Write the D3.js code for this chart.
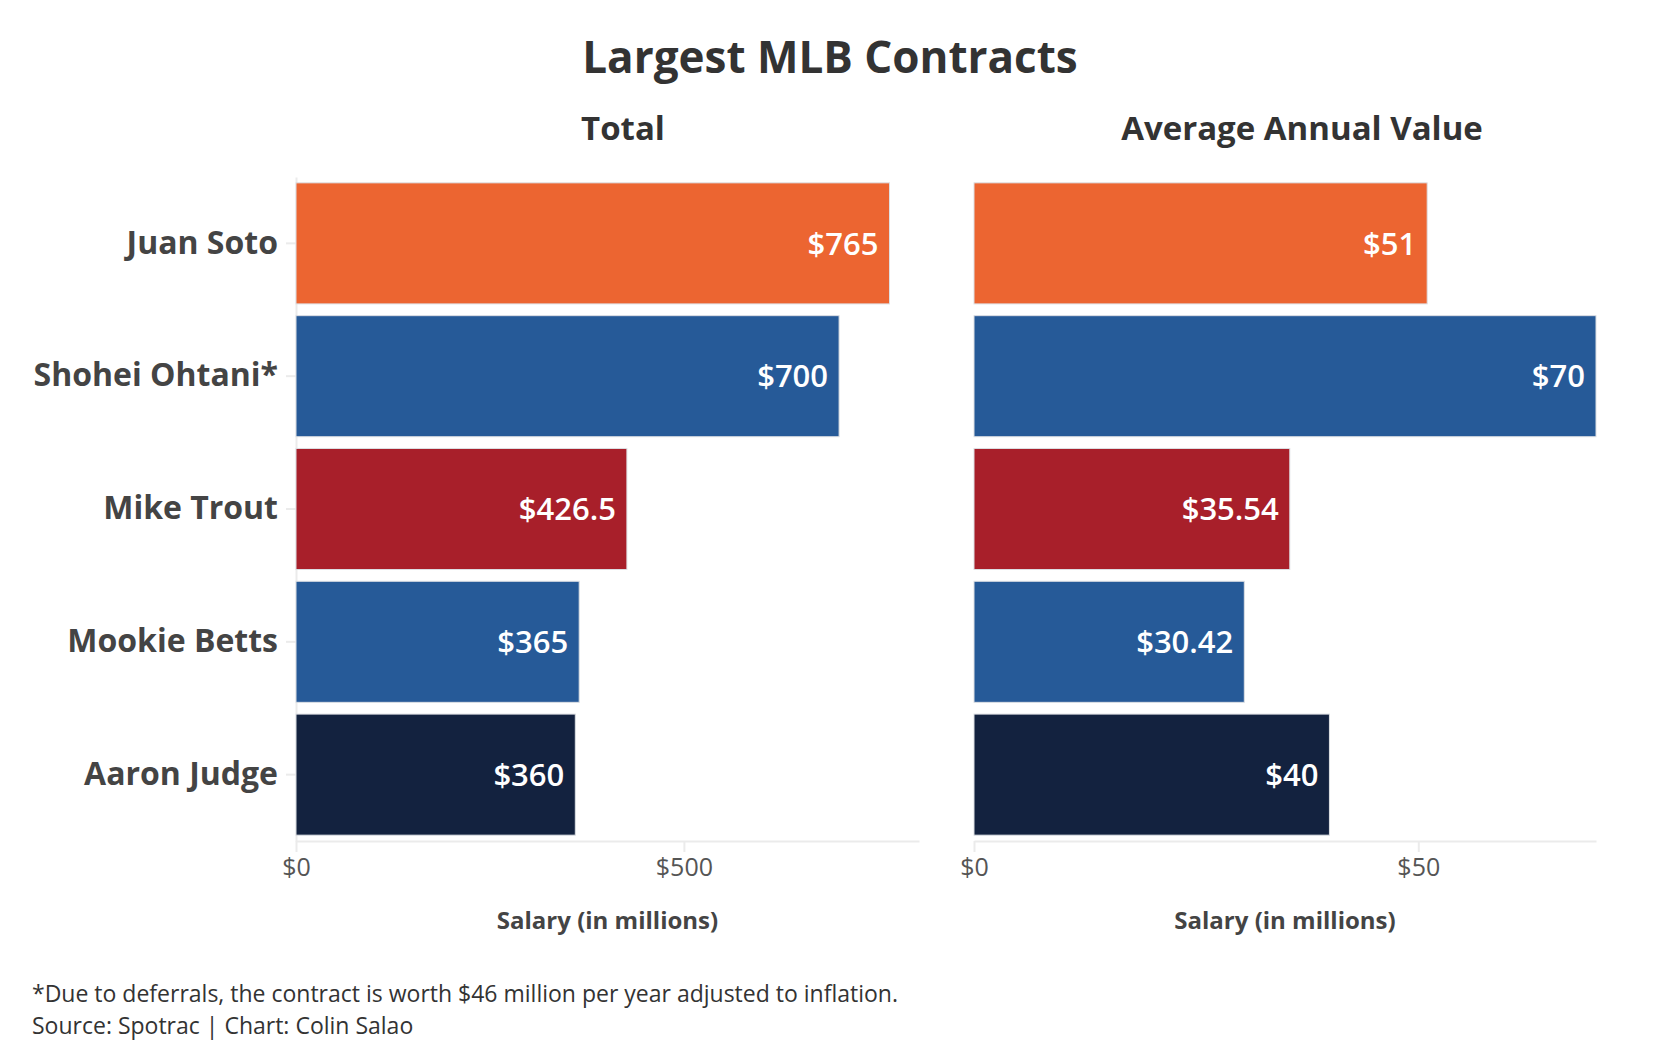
<!DOCTYPE html>
<html>
<head>
<meta charset="utf-8">
<script src="https://cdn.jsdelivr.net/npm/d3@7"></script>
<style>
  body { margin: 0; background: #fff; }
  text { font-family: "Open Sans", Lato, sans-serif; }
</style>
</head>
<body>
<div id="chart"></div>
<script>
// Chart data
const players = ["Juan Soto", "Shohei Ohtani*", "Mike Trout", "Mookie Betts", "Aaron Judge"];
const totalValues = [765, 700, 426.5, 365, 360];
const aavValues = [51, 70, 35.54, 30.42, 40];
const barColors = ["#EC6531", "#265A98", "#A81F2A", "#265A98", "#13223F"];
const totalTicks = [0, 500];
const aavTicks = [0, 50];
const panelTitles = ["Total", "Average Annual Value"];
const footnotes = [
    "*Due to deferrals, the contract is worth $46 million per year adjusted to inflation.",
    "Source: Spotrac | Chart: Colin Salao"
];

const width = 1656, height = 1062;
const plotTop = 177, plotBottom = 841;
const font = "'Open Sans', Lato, sans-serif";

const svg = d3.select("#chart").append("svg")
    .attr("width", width)
    .attr("height", height);

// Title
svg.append("text")
    .attr("x", 830)
    .attr("y", 73)
    .attr("text-anchor", "middle")
    .attr("font-size", "44px")
    .attr("font-weight", "bold")
    .attr("fill", "#333")
    .text("Largest MLB Contracts");

// Shared band scale
const y = d3.scaleBand()
    .domain(players)
    .range([plotTop, plotBottom])
    .paddingInner(0.0885)
    .paddingOuter(0.044);

const panels = [
    { values: totalValues, ticks: totalTicks, x: d3.scaleLinear().domain([0, 803]).range([296, 919]), titleX: 623 },
    { values: aavValues, ticks: aavTicks, x: d3.scaleLinear().domain([0, 70]).range([974, 1596]), titleX: 1302 }
];

const gAxes = svg.append("g");
const gBars = svg.append("g");
const gLabels = svg.append("g");

panels.forEach((p, i) => {
    const rows = players.map((name, j) => ({ name, value: p.values[j], color: barColors[j] }));

    // Panel title
    svg.append("text")
        .attr("x", p.titleX)
        .attr("y", 140)
        .attr("text-anchor", "middle")
        .attr("font-size", "33px")
        .attr("font-weight", "bold")
        .attr("fill", "#333")
        .text(panelTitles[i]);

    // X axis
    const xAxis = gAxes.append("g")
        .attr("transform", `translate(0,${plotBottom})`)
        .call(d3.axisBottom(p.x)
            .tickValues(p.ticks)
            .tickSize(11)
            .tickSizeOuter(0)
            .tickPadding(6)
            .tickFormat(d => `$${d}`));
    xAxis.select(".domain").attr("stroke", "#ebebeb").attr("stroke-width", 2);
    xAxis.selectAll(".tick line").attr("stroke", "#ebebeb").attr("stroke-width", 2);
    xAxis.selectAll(".tick text")
        .attr("font-size", "25px")
        .attr("fill", "#555")
        .attr("font-family", font);

    // Axis title
    svg.append("text")
        .attr("x", (p.x.range()[0] + p.x.range()[1]) / 2)
        .attr("y", 929)
        .attr("text-anchor", "middle")
        .attr("font-size", "24px")
        .attr("font-weight", "bold")
        .attr("fill", "#444")
        .text("Salary (in millions)");

    // Bars
    gBars.selectAll(`.bar-${i}`)
        .data(rows)
        .enter().append("rect")
        .attr("class", `bar-${i}`)
        .attr("x", p.x(0))
        .attr("y", d => y(d.name))
        .attr("width", d => p.x(d.value) - p.x(0))
        .attr("height", y.bandwidth())
        .attr("fill", d => d.color)
        .attr("stroke", "#dde0e4")
        .attr("stroke-width", 1);

    // Value labels
    gLabels.selectAll(`.label-${i}`)
        .data(rows)
        .enter().append("text")
        .attr("class", `label-${i}`)
        .attr("x", d => p.x(d.value) - 11)
        .attr("y", d => y(d.name) + y.bandwidth() / 2)
        .attr("dy", "0.36em")
        .attr("text-anchor", "end")
        .attr("font-size", "31px")
        .attr("font-weight", "600")
        .attr("fill", "#fff")
        .text(d => `$${d.value}`);
});

// Y axis on the left panel
const yAxis = gAxes.append("g")
    .attr("transform", `translate(${panels[0].x(0)},0)`)
    .call(d3.axisLeft(y).tickSize(10).tickSizeOuter(0).tickPadding(8));
yAxis.select(".domain").attr("stroke", "#ebebeb").attr("stroke-width", 2);
yAxis.selectAll(".tick line").attr("stroke", "#ebebeb").attr("stroke-width", 2);
yAxis.selectAll(".tick text")
    .attr("font-size", "32px")
    .attr("font-weight", "bold")
    .attr("fill", "#444")
    .attr("font-family", font);

// Footnotes
svg.selectAll(".foot")
    .data(footnotes)
    .enter().append("text")
    .attr("class", "foot")
    .attr("x", 32)
    .attr("y", (d, i) => 1002 + i * 32)
    .attr("font-size", "23px")
    .attr("fill", "#333")
    .text(d => d);
</script>
</body>
</html>
